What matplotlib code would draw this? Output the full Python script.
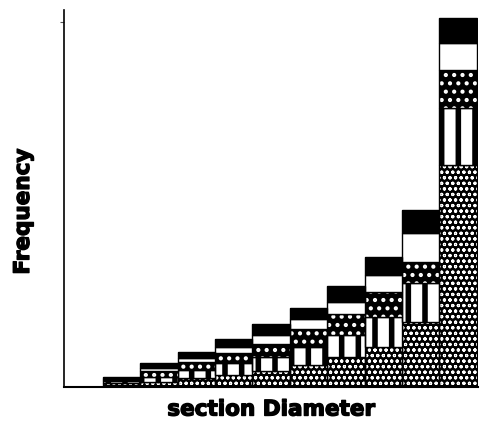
import matplotlib
matplotlib.use("Agg")
import matplotlib.pyplot as plt
import matplotlib.patheffects as pe
import numpy as np

plt.rcParams['hatch.linewidth'] = 1.5

# Data (arbitrary frequency units)
bins = list(range(1, 11))
seg_dark  = [4, 5, 9, 12, 16, 22, 30, 40, 65, 222]
seg_wavy  = [2, 5, 8, 12, 14, 18, 22, 30, 39, 57]
seg_cross = [1.5, 6, 8, 10, 13, 18, 21, 25, 21, 38]
seg_white = [1, 3, 4, 6, 9, 10, 12, 17, 29, 27]
seg_black = [1.5, 5, 6, 8, 11, 11, 16, 18, 23, 25]
y_ticks = [365]

fig = plt.figure(figsize=(4.82, 4.23), dpi=100)
W, H = 482, 423
ax = fig.add_axes([64 / W, (H - 387) / H, (478 - 64) / W, (387 - 10) / H])

segments = [
    (seg_dark,  dict(facecolor='black', edgecolor='white', hatch='ooo'), 0.8),
    (seg_wavy,  dict(facecolor='white', edgecolor='black', hatch='|'), 4.0),
    (seg_cross, dict(facecolor='black', edgecolor='white', hatch='..'), 1.8),
    (seg_white, dict(facecolor='white', edgecolor='black', hatch=None), 1.0),
    (seg_black, dict(facecolor='black', edgecolor='black', hatch=None), 1.0),
]

bottom = np.zeros(len(bins))
for vals, style, hlw in segments:
    bars = ax.bar(bins, vals, width=1.0, bottom=bottom, linewidth=0, **style)
    for b in bars:
        if hasattr(b, 'set_hatch_linewidth'):
            b.set_hatch_linewidth(hlw)
    ax.bar(bins, vals, width=1.0, bottom=bottom, fill=False,
           edgecolor='black', linewidth=1.0)
    bottom = bottom + np.array(vals)

ax.set_xlim(-0.54, 10.53)
ax.set_ylim(0, 377)
ax.spines['top'].set_visible(False)
ax.spines['right'].set_visible(False)
ax.spines['left'].set_linewidth(1.2)
ax.spines['bottom'].set_linewidth(1.5)
ax.set_xticks([])
ax.set_yticks(y_ticks)
ax.set_yticklabels([''] * len(y_ticks))
ax.tick_params(axis='y', length=3, width=0.8, color='#555555')

heavy = [pe.withStroke(linewidth=1.0, foreground='black')]
ax.set_xlabel('section Diameter', fontsize=15.5, fontweight='bold',
              family=['DejaVu Sans'], labelpad=9, path_effects=heavy)
ax.set_ylabel('Frequency', fontsize=15.5, fontweight='bold',
              family=['DejaVu Sans'], path_effects=heavy)
ax.yaxis.set_label_coords(-0.075, 0.465)

fig.savefig('out.png', dpi=100)
